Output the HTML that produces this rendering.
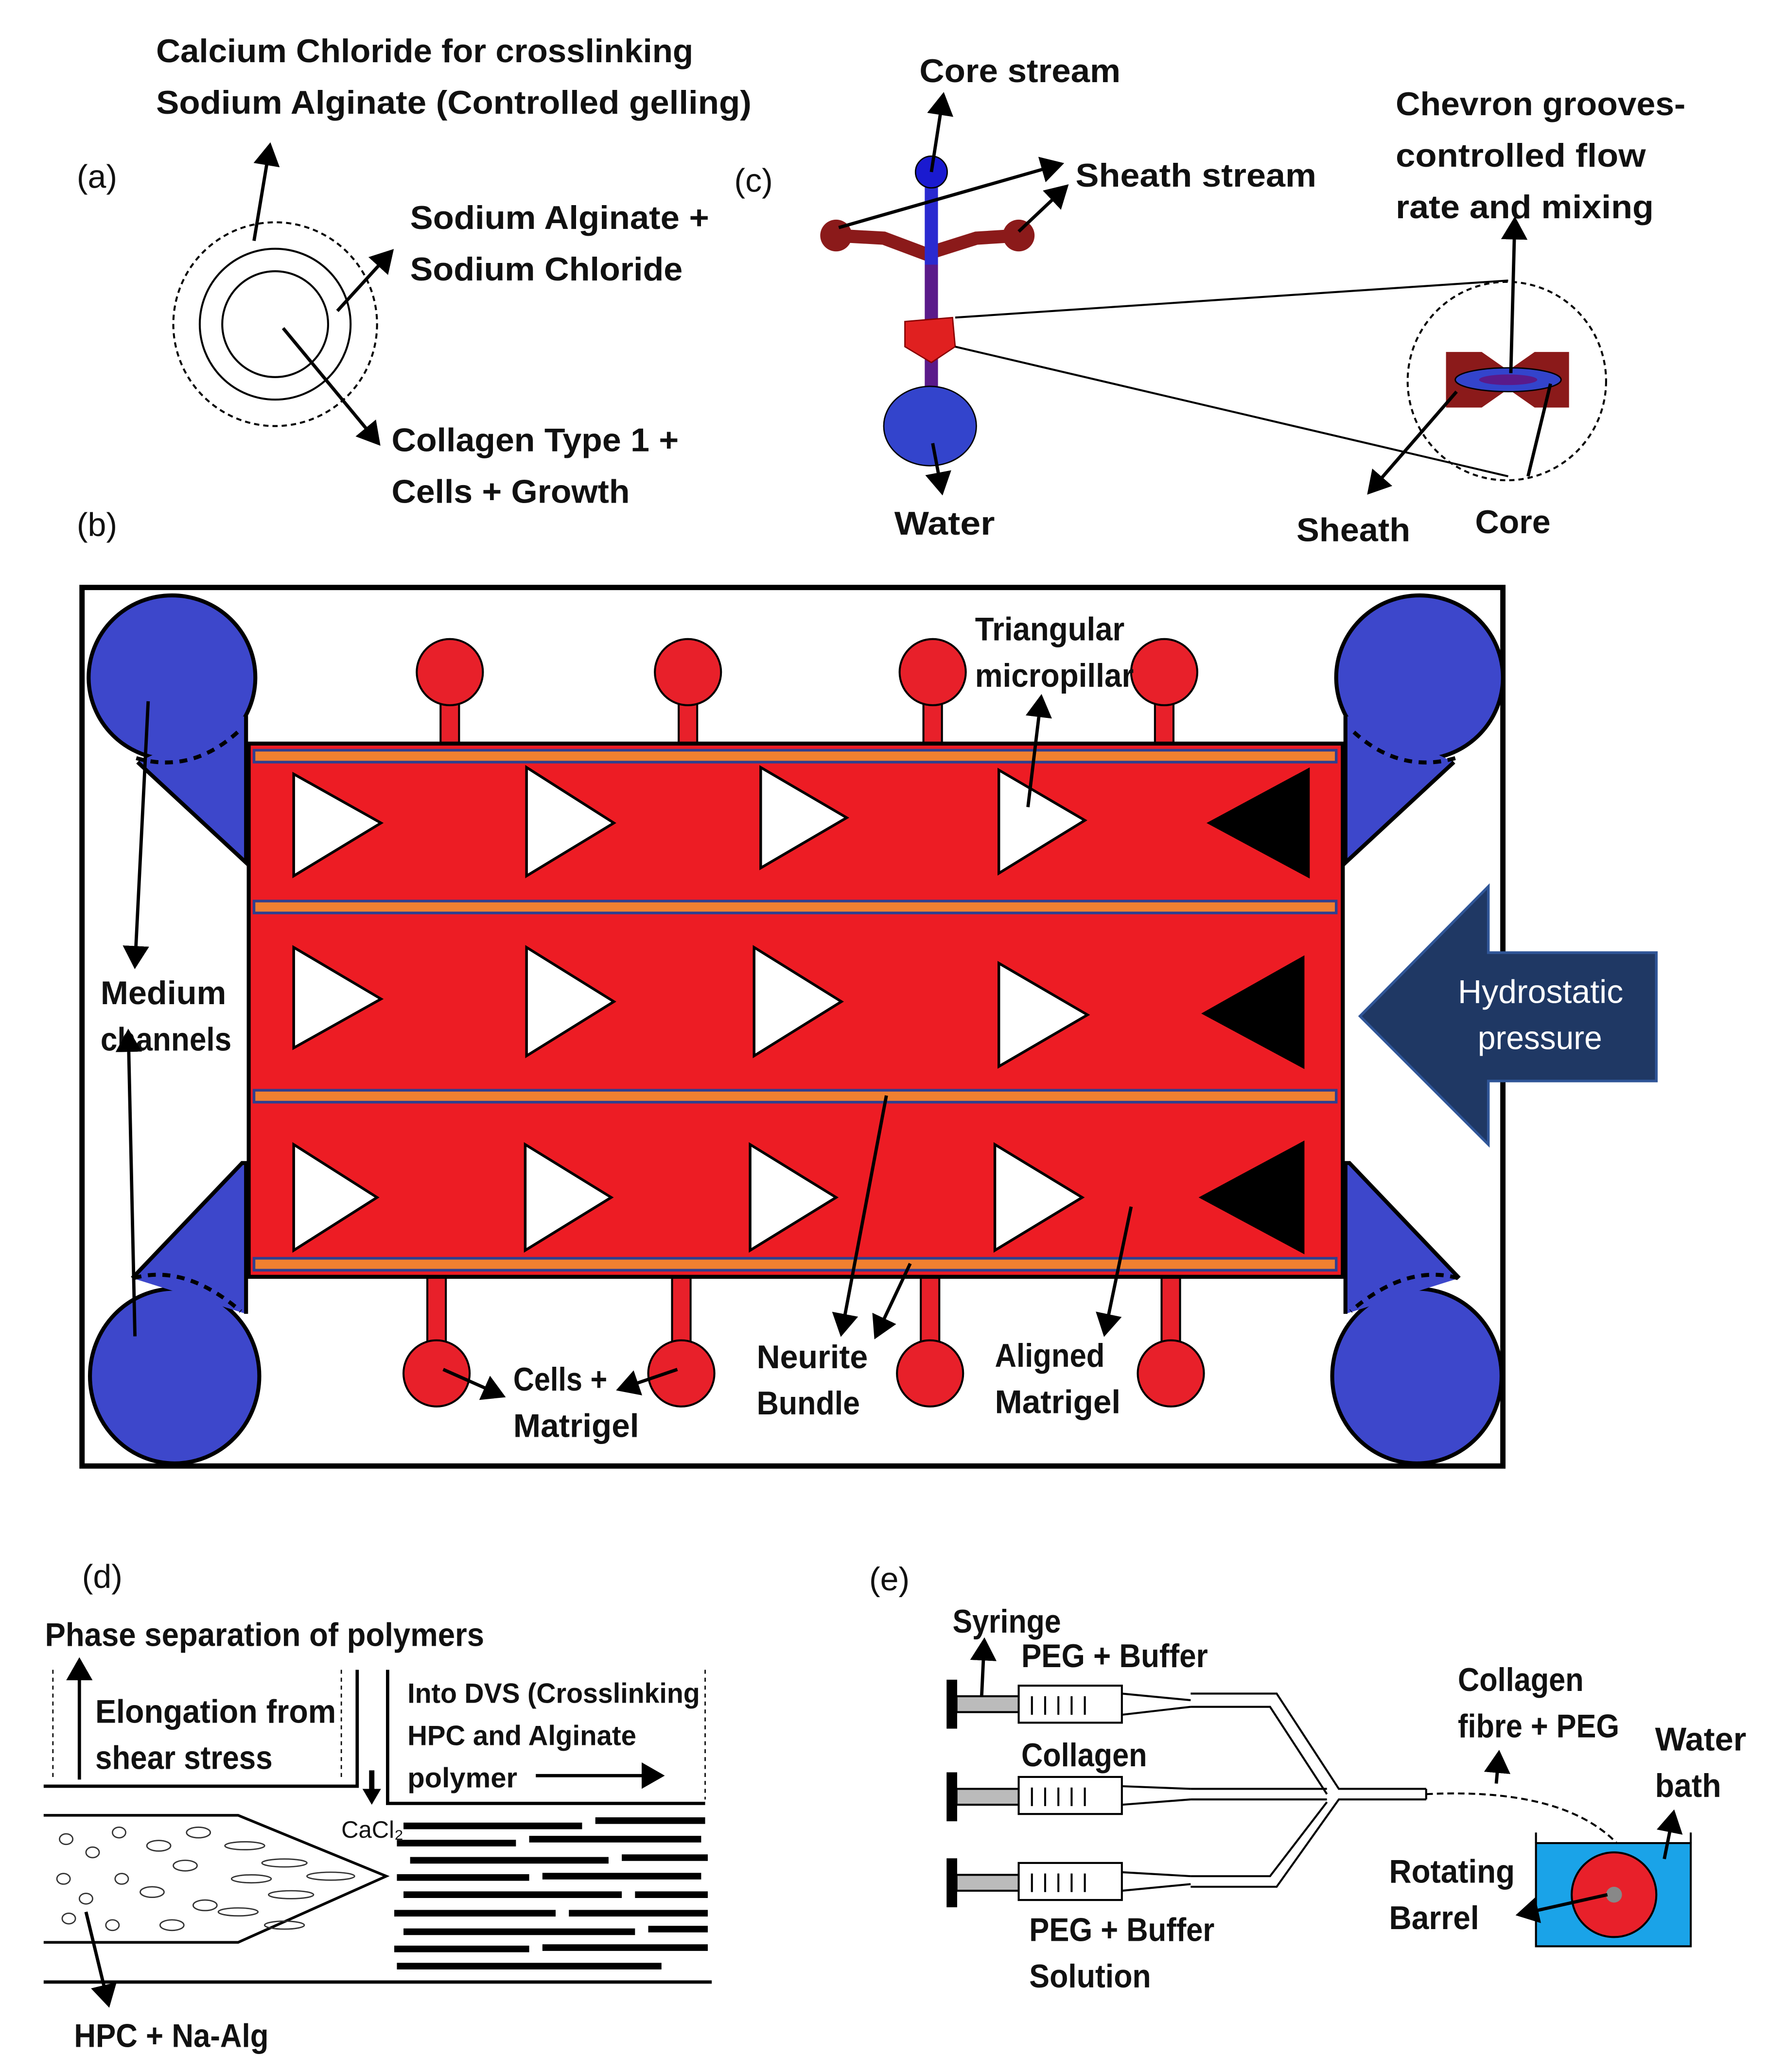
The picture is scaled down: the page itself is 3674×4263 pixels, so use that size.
<!DOCTYPE html>
<html><head><meta charset="utf-8"><style>
html,body{margin:0;padding:0;background:#fff}
svg{display:block}
text{font-family:"Liberation Sans",sans-serif;font-weight:bold;font-size:25px;fill:#111}
.n{font-weight:normal}
</style></head><body>
<svg width="3674" height="4263" viewBox="0 0 1350 1566" preserveAspectRatio="none" xmlns="http://www.w3.org/2000/svg">
<defs>
<marker id="ar" markerWidth="8" markerHeight="8" refX="6" refY="4" orient="auto" markerUnits="strokeWidth"><path d="M0,0 L7,4 L0,8 z" fill="#000"/></marker>
</defs>
<g stroke="#000" stroke-width="2.5" fill="none">
<circle cx="208" cy="245" r="77" stroke-dasharray="4,3" stroke-width="1.5"/>
<circle cx="208" cy="245" r="57" stroke-width="1.5"/>
<circle cx="208" cy="245" r="40" stroke-width="1.5"/>
<line x1="192" y1="182" x2="204" y2="110" marker-end="url(#ar)"/>
<line x1="255" y1="235" x2="296" y2="190" marker-end="url(#ar)"/>
<line x1="214" y1="248" x2="286" y2="335" marker-end="url(#ar)"/>
</g>
<text x="118" y="47" textLength="406" lengthAdjust="spacingAndGlyphs">Calcium Chloride for crosslinking</text>
<text x="118" y="86" textLength="450" lengthAdjust="spacingAndGlyphs">Sodium Alginate (Controlled gelling)</text>
<text x="58" y="142" class="n">(a)</text>
<text x="310" y="173" textLength="226" lengthAdjust="spacingAndGlyphs">Sodium Alginate +</text>
<text x="310" y="212" textLength="206" lengthAdjust="spacingAndGlyphs">Sodium Chloride</text>
<text x="296" y="341" textLength="217" lengthAdjust="spacingAndGlyphs">Collagen Type 1 +</text>
<text x="296" y="380" textLength="180" lengthAdjust="spacingAndGlyphs">Cells + Growth</text>
<text x="58" y="405" class="n">(b)</text>

<text x="555" y="145" class="n">(c)</text>
<text x="695" y="62" textLength="152" lengthAdjust="spacingAndGlyphs">Core stream</text>
<text x="813" y="141" textLength="182" lengthAdjust="spacingAndGlyphs">Sheath stream</text>
<text x="1055" y="87" textLength="219" lengthAdjust="spacingAndGlyphs">Chevron grooves-</text>
<text x="1055" y="126" textLength="189" lengthAdjust="spacingAndGlyphs">controlled flow</text>
<text x="1055" y="165" textLength="195" lengthAdjust="spacingAndGlyphs">rate and mixing</text>
<text x="676" y="404" textLength="76" lengthAdjust="spacingAndGlyphs">Water</text>
<text x="980" y="409" textLength="86" lengthAdjust="spacingAndGlyphs">Sheath</text>
<text x="1115" y="403" textLength="57" lengthAdjust="spacingAndGlyphs">Core</text>
<polyline points="632,178 668,180 700,192 738,180 770,178" stroke="#8b1a1a" stroke-width="10" fill="none"/>
<circle cx="632" cy="178" r="12" fill="#8b1a1a"/>
<circle cx="770" cy="178" r="12" fill="#8b1a1a"/>
<line x1="704" y1="130" x2="704" y2="200" stroke="#2a2ad0" stroke-width="10"/>
<line x1="704" y1="200" x2="704" y2="305" stroke="#5a1a8a" stroke-width="10"/>
<circle cx="704" cy="130" r="12" fill="#1a1ad0" stroke="#000" stroke-width="1"/>
<ellipse cx="703" cy="322" rx="35" ry="30" fill="#3344cc" stroke="#000" stroke-width="1"/>
<polygon points="684,243 720,240 722,262 704,274 684,262" fill="#e02020" stroke="#800" stroke-width="1"/>
<g stroke="#000" stroke-width="1.5" fill="none">
<line x1="722" y1="240" x2="1140" y2="212"/>
<line x1="722" y1="262" x2="1140" y2="360"/>
<circle cx="1139" cy="288" r="75" stroke-dasharray="4,3"/>
</g>
<polygon points="1093,266 1120,266 1140,280 1160,266 1186,266 1186,308 1160,308 1140,294 1120,308 1093,308" fill="#8b1a1a"/>
<ellipse cx="1140" cy="287" rx="40" ry="9" fill="#3344cc" stroke="#000" stroke-width="1"/>
<ellipse cx="1140" cy="287" rx="22" ry="4" fill="#5a1a8a"/>
<g stroke="#000" stroke-width="2.5" fill="none">
<line x1="704" y1="130" x2="713" y2="72" marker-end="url(#ar)"/>
<line x1="634" y1="172" x2="802" y2="124" marker-end="url(#ar)"/>
<line x1="770" y1="175" x2="806" y2="141" marker-end="url(#ar)"/>
<line x1="1142" y1="282" x2="1145" y2="166" marker-end="url(#ar)"/>
<line x1="1101" y1="296" x2="1035" y2="372" marker-end="url(#ar)"/>
<line x1="1172" y1="290" x2="1155" y2="360"/>
<line x1="705" y1="335" x2="712" y2="372" marker-end="url(#ar)"/>
</g>

<!-- (b) -->
<rect x="62" y="444" width="1074" height="664" fill="none" stroke="#000" stroke-width="4"/>
<g id="cl">
<ellipse cx="130" cy="512" rx="63" ry="62" fill="#3d47cb" stroke="#000" stroke-width="3"/>
<polygon points="104,576 186,652 186,541 170,545" fill="#3d47cb"/>
<polyline points="104,576 186,652 186,541" fill="none" stroke="#000" stroke-width="3"/>
<path d="M103,573 Q145,585 180,553" fill="none" stroke="#000" stroke-width="3" stroke-dasharray="6,5"/>
<ellipse cx="132" cy="1040" rx="64" ry="66" fill="#3d47cb" stroke="#000" stroke-width="3"/>
<polygon points="100,966 183,879 186,879 186,993" fill="#3d47cb"/>
<polyline points="100,966 183,879 186,879 186,993" fill="none" stroke="#000" stroke-width="3"/>
<path d="M101,966 Q140,955 182,991" fill="none" stroke="#000" stroke-width="3" stroke-dasharray="6,5"/>
</g>
<use href="#cl" transform="translate(1203,0) scale(-1,1)"/>
<g fill="#e8202a" stroke="#000" stroke-width="1.5">
<rect x="333" y="525" width="14" height="40"/><circle cx="340" cy="508" r="25"/>
<rect x="513" y="525" width="14" height="40"/><circle cx="520" cy="508" r="25"/>
<rect x="698" y="525" width="14" height="40"/><circle cx="705" cy="508" r="25"/>
<rect x="873" y="525" width="14" height="40"/><circle cx="880" cy="508" r="25"/>
<rect x="323" y="962" width="14" height="55"/><circle cx="330" cy="1038" r="25"/>
<rect x="508" y="962" width="14" height="55"/><circle cx="515" cy="1038" r="25"/>
<rect x="696" y="962" width="14" height="55"/><circle cx="703" cy="1038" r="25"/>
<rect x="878" y="962" width="14" height="55"/><circle cx="885" cy="1038" r="25"/>
</g>
<rect x="188" y="562" width="827" height="403" fill="#ed1c24" stroke="#000" stroke-width="3"/>
<g fill="#f08030" stroke="#2f3f8f" stroke-width="2">
<rect x="192" y="567" width="818" height="9"/>
<rect x="192" y="681" width="818" height="9"/>
<rect x="192" y="824" width="818" height="9"/>
<rect x="192" y="951" width="818" height="9"/>
</g>
<g fill="#fff" stroke="#000" stroke-width="2">
<polygon points="222,585 222,662 288,622"/><polygon points="398,580 398,662 464,622"/><polygon points="575,580 575,656 640,618"/><polygon points="755,582 755,660 820,620"/>
<polygon points="222,716 222,792 288,755"/><polygon points="398,716 398,798 464,757"/><polygon points="570,716 570,798 636,757"/><polygon points="755,728 755,806 822,767"/>
<polygon points="222,865 222,945 285,905"/><polygon points="397,865 397,945 462,905"/><polygon points="567,865 567,945 632,905"/><polygon points="752,865 752,945 818,905"/>
</g>
<g fill="#000">
<polygon points="990,580 990,664 912,622"/><polygon points="986,722 986,808 908,766"/><polygon points="986,862 986,948 906,905"/>
</g>
<polygon points="1028,768 1125,670 1125,720 1252,720 1252,817 1125,817 1125,865" fill="#1f3864" stroke="#2f5597" stroke-width="2"/>
<text x="1102" y="758" class="n" style="fill:#fff" textLength="125" lengthAdjust="spacingAndGlyphs">Hydrostatic</text>
<text x="1117" y="793" class="n" style="fill:#fff" textLength="94" lengthAdjust="spacingAndGlyphs">pressure</text>
<text x="737" y="484" textLength="113" lengthAdjust="spacingAndGlyphs">Triangular</text>
<text x="737" y="519" textLength="120" lengthAdjust="spacingAndGlyphs">micropillar</text>
<text x="76" y="759" textLength="95" lengthAdjust="spacingAndGlyphs">Medium</text>
<text x="76" y="794" textLength="99" lengthAdjust="spacingAndGlyphs">channels</text>
<text x="388" y="1051" textLength="71" lengthAdjust="spacingAndGlyphs">Cells +</text>
<text x="388" y="1086" textLength="95" lengthAdjust="spacingAndGlyphs">Matrigel</text>
<text x="572" y="1034" textLength="84" lengthAdjust="spacingAndGlyphs">Neurite</text>
<text x="572" y="1069" textLength="78" lengthAdjust="spacingAndGlyphs">Bundle</text>
<text x="752" y="1033" textLength="83" lengthAdjust="spacingAndGlyphs">Aligned</text>
<text x="752" y="1068" textLength="95" lengthAdjust="spacingAndGlyphs">Matrigel</text>
<g stroke="#000" stroke-width="2.5" fill="none">
<line x1="777" y1="610" x2="787" y2="527" marker-end="url(#ar)"/>
<line x1="112" y1="530" x2="102" y2="730" marker-end="url(#ar)"/>
<line x1="102" y1="1010" x2="97" y2="780" marker-end="url(#ar)"/>
<line x1="335" y1="1035" x2="380" y2="1055" marker-end="url(#ar)"/>
<line x1="512" y1="1035" x2="468" y2="1050" marker-end="url(#ar)"/>
<line x1="670" y1="828" x2="636" y2="1008" marker-end="url(#ar)"/>
<line x1="688" y1="955" x2="662" y2="1010" marker-end="url(#ar)"/>
<line x1="855" y1="912" x2="835" y2="1008" marker-end="url(#ar)"/>
</g>

<!-- (d) -->
<text x="62" y="1200" class="n">(d)</text>
<text x="34" y="1244" textLength="332" lengthAdjust="spacingAndGlyphs">Phase separation of polymers</text>
<text x="72" y="1302" textLength="182" lengthAdjust="spacingAndGlyphs">Elongation from</text>
<text x="72" y="1337" textLength="134" lengthAdjust="spacingAndGlyphs">shear stress</text>
<text x="308" y="1287" style="font-size:21px" textLength="221" lengthAdjust="spacingAndGlyphs">Into DVS (Crosslinking</text>
<text x="308" y="1319" style="font-size:21px" textLength="173" lengthAdjust="spacingAndGlyphs">HPC and Alginate</text>
<text x="308" y="1351" style="font-size:21px" textLength="83" lengthAdjust="spacingAndGlyphs">polymer</text>
<text x="258" y="1389" class="n" style="font-size:18px">CaCl₂</text>
<text x="56" y="1547" textLength="147" lengthAdjust="spacingAndGlyphs">HPC + Na-Alg</text>
<g stroke="#000" fill="none">
<line x1="40" y1="1262" x2="40" y2="1345" stroke-dasharray="3,3" stroke-width="1"/>
<line x1="258" y1="1262" x2="258" y2="1345" stroke-dasharray="3,3" stroke-width="1"/>
<line x1="533" y1="1262" x2="533" y2="1360" stroke-dasharray="3,3" stroke-width="1"/>
<line x1="60" y1="1345" x2="60" y2="1255" stroke-width="2.5" marker-end="url(#ar)"/>
<polyline points="33,1350 270,1350 270,1262" stroke-width="2.5"/>
<polyline points="293,1262 293,1363 533,1363" stroke-width="2.5"/>
<line x1="281" y1="1338" x2="281" y2="1354" stroke-width="4"/>
<line x1="405" y1="1342" x2="500" y2="1342" stroke-width="2.5" marker-end="url(#ar)"/>
<polyline points="33,1372 180,1372 292,1418 180,1468 33,1468" stroke-width="2"/>
<line x1="33" y1="1498" x2="538" y2="1498" stroke-width="2.5"/>
<line x1="65" y1="1445" x2="82" y2="1515" stroke-width="2.5" marker-end="url(#ar)"/>
</g>
<polygon points="274,1352 288,1352 281,1364" fill="#000"/>
<g fill="none" stroke="#333" stroke-width="1">
<ellipse cx="50" cy="1390" rx="5" ry="4"/><ellipse cx="70" cy="1400" rx="5" ry="4"/><ellipse cx="48" cy="1420" rx="5" ry="4"/><ellipse cx="65" cy="1435" rx="5" ry="4"/><ellipse cx="90" cy="1385" rx="5" ry="4"/><ellipse cx="92" cy="1420" rx="5" ry="4"/><ellipse cx="52" cy="1450" rx="5" ry="4"/><ellipse cx="85" cy="1455" rx="5" ry="4"/>
<ellipse cx="120" cy="1395" rx="9" ry="4"/><ellipse cx="115" cy="1430" rx="9" ry="4"/><ellipse cx="140" cy="1410" rx="9" ry="4"/><ellipse cx="130" cy="1455" rx="9" ry="4"/><ellipse cx="150" cy="1385" rx="9" ry="4"/><ellipse cx="155" cy="1440" rx="9" ry="4"/>
<ellipse cx="185" cy="1395" rx="15" ry="3"/><ellipse cx="190" cy="1420" rx="15" ry="3"/><ellipse cx="180" cy="1445" rx="15" ry="3"/><ellipse cx="215" cy="1408" rx="17" ry="3"/><ellipse cx="220" cy="1432" rx="17" ry="3"/><ellipse cx="250" cy="1418" rx="18" ry="3"/><ellipse cx="215" cy="1455" rx="15" ry="3"/>
</g>
<g stroke="#000" stroke-width="5">
<line x1="305" y1="1380" x2="440" y2="1380"/><line x1="450" y1="1376" x2="533" y2="1376"/>
<line x1="300" y1="1393" x2="390" y2="1393"/><line x1="400" y1="1390" x2="530" y2="1390"/>
<line x1="310" y1="1406" x2="460" y2="1406"/><line x1="470" y1="1404" x2="535" y2="1404"/>
<line x1="300" y1="1419" x2="400" y2="1419"/><line x1="410" y1="1418" x2="530" y2="1418"/>
<line x1="305" y1="1432" x2="470" y2="1432"/><line x1="480" y1="1432" x2="535" y2="1432"/>
<line x1="298" y1="1446" x2="420" y2="1446"/><line x1="430" y1="1446" x2="535" y2="1446"/>
<line x1="305" y1="1460" x2="480" y2="1460"/><line x1="490" y1="1458" x2="535" y2="1458"/>
<line x1="298" y1="1473" x2="400" y2="1473"/><line x1="410" y1="1472" x2="535" y2="1472"/>
<line x1="300" y1="1486" x2="500" y2="1486"/>
</g>

<!-- (e) -->
<text x="657" y="1202" class="n">(e)</text>
<text x="720" y="1234" textLength="82" lengthAdjust="spacingAndGlyphs">Syringe</text>
<text x="772" y="1260" textLength="141" lengthAdjust="spacingAndGlyphs">PEG + Buffer</text>
<text x="772" y="1335" textLength="95" lengthAdjust="spacingAndGlyphs">Collagen</text>
<text x="778" y="1467" textLength="140" lengthAdjust="spacingAndGlyphs">PEG + Buffer</text>
<text x="778" y="1502" textLength="92" lengthAdjust="spacingAndGlyphs">Solution</text>
<text x="1102" y="1278" textLength="95" lengthAdjust="spacingAndGlyphs">Collagen</text>
<text x="1102" y="1313" textLength="122" lengthAdjust="spacingAndGlyphs">fibre + PEG</text>
<text x="1251" y="1323" textLength="69" lengthAdjust="spacingAndGlyphs">Water</text>
<text x="1251" y="1358" textLength="50" lengthAdjust="spacingAndGlyphs">bath</text>
<text x="1050" y="1423" textLength="95" lengthAdjust="spacingAndGlyphs">Rotating</text>
<text x="1050" y="1458" textLength="68" lengthAdjust="spacingAndGlyphs">Barrel</text>
<g stroke="#000">
<rect x="716" y="1270" width="7" height="36" fill="#000"/>
<rect x="716" y="1340" width="7" height="36" fill="#000"/>
<rect x="716" y="1405" width="7" height="36" fill="#000"/>
<g fill="#bbb" stroke-width="1.5"><rect x="723" y="1282" width="47" height="12"/><rect x="723" y="1352" width="47" height="12"/><rect x="723" y="1417" width="47" height="12"/></g>
<g fill="#fff" stroke-width="1.5"><rect x="770" y="1274" width="78" height="28"/><rect x="770" y="1343" width="78" height="28"/><rect x="770" y="1408" width="78" height="28"/></g>
<g fill="none" stroke-width="1.5">
<path d="M780,1282v14M790,1282v14M800,1282v14M810,1282v14M820,1282v14"/>
<path d="M780,1351v14M790,1351v14M800,1351v14M810,1351v14M820,1351v14"/>
<path d="M780,1416v14M790,1416v14M800,1416v14M810,1416v14M820,1416v14"/>
<path d="M848,1280 L900,1285 M848,1296 L900,1290"/>
<path d="M848,1350 L900,1352 M848,1364 L900,1360"/>
<path d="M848,1415 L900,1418 M848,1429 L900,1424"/>
<path d="M900,1280 L965,1280 L1012,1352 L1078,1352 M900,1290 L960,1290 L1003,1356"/>
<path d="M900,1352 L1003,1352 M900,1360 L1003,1360"/>
<path d="M900,1418 L960,1418 L1003,1362 M900,1426 L965,1426 L1012,1360 L1078,1360"/>
<line x1="1078" y1="1352" x2="1078" y2="1360"/>
<path d="M1078,1356 Q1200,1350 1235,1410" stroke-dasharray="5,3"/>
</g>
<line x1="742" y1="1282" x2="744" y2="1240" stroke-width="2.5" marker-end="url(#ar)"/>
<line x1="1131" y1="1348" x2="1133" y2="1325" stroke-width="2.5" marker-end="url(#ar)"/>
<rect x="1161" y="1393" width="117" height="78" fill="#1aa3e8" stroke="#000" stroke-width="1.5"/>
<line x1="1161" y1="1385" x2="1161" y2="1393" stroke-width="1.5"/><line x1="1278" y1="1385" x2="1278" y2="1393" stroke-width="1.5"/>
<circle cx="1220" cy="1432" r="32" fill="#e8202a" stroke-width="1.5"/>
<circle cx="1220" cy="1432" r="6" fill="#888" stroke="none"/>
<line x1="1258" y1="1405" x2="1265" y2="1370" stroke-width="2.5" marker-end="url(#ar)"/>
<line x1="1215" y1="1432" x2="1148" y2="1447" stroke-width="2.5" marker-end="url(#ar)"/>
</g>
</svg>
</body></html>
